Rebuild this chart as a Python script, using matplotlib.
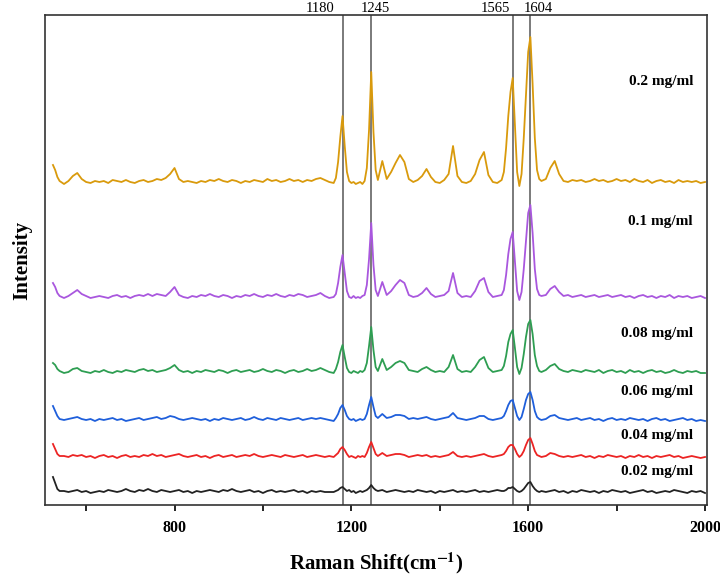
import numpy as np
import matplotlib
matplotlib.use("Agg")
import matplotlib.pyplot as plt

plt.rcParams["mathtext.fontset"] = "stix"

# ---------------- data ----------------
# wavenumber grid (cm^-1): coarse away from the main bands, finer near them
wavenumber = np.concatenate([
    np.array([525, 530, 535]),   # 3 points (start-up spike)
    np.arange(540, 1161, 10),    # 63 points
    np.arange(1165, 1261, 5),    # 20 points
    np.arange(1270, 1541, 10),   # 28 points
    np.arange(1545, 1631, 5),    # 18 points
    np.arange(1640, 2001, 10),   # 37 points
])

labels = ["0.2 mg/ml", "0.1 mg/ml", "0.08 mg/ml", "0.06 mg/ml", "0.04 mg/ml", "0.02 mg/ml"]

# intensities (a.u., relative to each trace's own baseline)
int_02 = [
    17, 12, 5,
    1, -2, 1, 6, 9, 3, 0, -1, 1, 0, 1, -1, 2, 1, 0, 2, 0, -1, 1, 2,
    0, 1, 3, 2, 4, 8, 14, 3, 0, 1, 0, -1, 1, 0, 2, 1, 3, 1, 0, 2,
    1, -1, 1, 0, 2, 1, 0, 3, 1, 2, 0, 1, 3, 1, 2, 0, 2, 1, 3, 4,
    2, 0, -1,
    4, 20, 45, 66, 36, 10, 1, -1, 0, -2, -1, 0, -2, 1, 14, 52, 110, 50, 12, 2,
    21, 3, 10, 19, 27, 20, 3, 0, 2, 6, 13, 5, 0, -1, 2, 8, 36, 6, 0, -1,
    1, 8, 22, 30, 7, 0, -1, 2,
    10, 34, 66, 90, 104, 56, 10, -4, 8, 44, 88, 130, 145, 98, 44, 12, 3, 1,
    3, 14, 21, 8, 1, 0, 2, 1, 2, 0, 1, 3, 1, 2, 0, 1, 3, 1, 2, 0,
    3, 1, 0, 2, -1, 1, 2, 0, 1, -1, 2, 0, 1, 0, 1, -1, 0,
]
int_01 = [
    14, 10, 4,
    1, -1, 1, 4, 7, 3, 1, -1, 0, 1, 0, -1, 1, 2, 0, 1, -1, 1, 2, 1,
    3, 1, 3, 2, 1, 5, 10, 2, 0, -1, 1, 0, 2, 1, 3, 1, 0, 2, 1, -1,
    1, 0, 2, 1, 3, 1, 0, 2, 1, 3, 1, 0, 2, 1, 3, 2, 0, 1, 2, 4,
    1, -1, 0,
    3, 14, 30, 42, 24, 6, 0, -1, 1, -1, 0, -1, 1, 2, 12, 38, 74, 32, 7, 1,
    15, 2, 6, 12, 17, 14, 2, 0, 1, 4, 9, 3, 0, 1, 2, 6, 24, 4, 0, 1,
    0, 6, 16, 19, 5, 0, 1, 2,
    7, 22, 43, 58, 65, 36, 6, -3, 5, 28, 56, 84, 92, 64, 28, 8, 2, 1,
    2, 8, 11, 5, 1, 2, 0, 1, 2, 0, 1, 2, 0, 1, 2, 0, 1, 2, 0, 1,
    -1, 1, 2, 0, 1, -1, 1, 0, 2, -1, 1, 0, 1, -1, 0, 1, -1,
]
int_008 = [
    9, 7, 3,
    1, -1, 0, 3, 4, 1, 0, -1, 1, 0, 2, 0, -1, 1, 0, 2, 1, 0, 2, 3,
    1, 2, 0, 1, 2, 4, 7, 2, 0, 1, -1, 1, 0, 2, 1, 0, 2, 1, -1, 1,
    2, 0, 1, 2, 0, 1, 3, 1, 0, 2, 1, -1, 1, 2, 0, 1, 3, 1, 2, 4,
    2, 0, -1,
    3, 10, 20, 27, 15, 4, 0, -1, 1, 0, -1, 1, 0, 2, 9, 26, 45, 22, 5, 1,
    13, 2, 5, 9, 11, 9, 2, 1, 0, 3, 5, 2, 0, 1, 0, 5, 17, 3, 0, 1,
    0, 5, 12, 15, 4, 0, 1, 2,
    6, 16, 30, 38, 42, 24, 5, -2, 4, 18, 35, 48, 52, 38, 17, 6, 1, 0,
    2, 6, 8, 3, 1, 0, 2, 1, 0, 2, 1, 0, 2, -1, 1, 2, 0, 1, -1, 2,
    0, 1, -1, 1, 2, 0, 1, -1, 0, 2, 0, -1, 1, 0, 1, -1, -1,
]
int_006 = [
    14, 9, 4,
    1, 0, 1, 2, 3, 1, 0, 1, -1, 1, 0, 1, 2, 0, 1, -1, 0, 1, 2, 0,
    1, 2, 3, 1, 2, 4, 3, 1, 0, 1, 2, 1, 0, 1, -1, 1, 0, 2, 1, 0,
    1, 2, 0, 1, 3, 1, 0, 2, 1, 0, 2, 1, 0, 1, 2, 0, 1, 2, 1, 2,
    1, 0, -1,
    2, 6, 12, 15, 10, 4, 1, 0, 1, -1, 0, 1, 0, 1, 6, 15, 23, 13, 4, 2,
    6, 2, 3, 5, 5, 4, 1, 2, 1, 2, 3, 1, 0, 1, 2, 3, 7, 2, 1, 0,
    1, 2, 4, 4, 1, 0, 1, 2,
    4, 9, 15, 19, 20, 12, 4, 0, 3, 11, 20, 26, 28, 20, 9, 3, 1, 0,
    1, 4, 5, 2, 1, 0, 1, 2, 0, 1, 2, 0, 1, -1, 1, 2, 0, 1, 0, 2,
    1, 0, 1, -1, 1, 2, 0, 1, -1, 0, 1, 2, 0, 1, -1, 0, -1,
]
int_004 = [
    13, 8, 3,
    1, 1, 0, 2, 1, 2, 0, 1, -1, 1, 2, 0, 1, -1, 1, 2, 0, 1, 0, 2,
    1, 3, 1, 2, 0, 1, 2, 3, 1, 0, 1, 2, 0, 1, -1, 1, 2, 0, 1, 2,
    0, 1, 2, 1, 3, 1, 0, 1, 2, 1, 0, 2, 1, 0, 1, 2, 0, 1, 2, 1,
    0, 1, 0,
    2, 4, 8, 10, 7, 3, 0, 1, 0, -1, 1, 0, 1, 0, 4, 10, 15, 9, 3, 1,
    4, 1, 2, 3, 3, 2, 0, 1, 2, 1, 2, 0, 1, 0, 1, 2, 5, 1, 0, 1,
    0, 1, 2, 3, 1, 0, 1, 2,
    3, 6, 10, 12, 12, 8, 3, 0, 2, 6, 12, 17, 19, 13, 6, 2, 1, 0,
    1, 4, 3, 1, 0, 1, 0, 1, 2, 0, 1, -1, 1, 0, 2, 1, 0, 1, -1, 1,
    0, 2, 0, 1, -1, 1, 0, 1, 2, 0, 1, -1, 0, 1, 0, -1, 0,
]
int_002 = [
    15, 9, 3,
    1, 1, 0, 1, 2, 0, 1, -1, 0, 1, 0, 2, 1, 0, 1, 3, 1, 0, 2, 1,
    3, 1, 0, 2, 1, 0, 1, 2, 0, 1, -1, 1, 0, 1, 2, 1, 0, 2, 1, 3,
    1, 0, 1, 2, 0, 1, -1, 1, 2, 0, 1, 0, 1, 2, 0, 1, -1, 1, 0, 1,
    0, 0, 0,
    1, 2, 4, 5, 3, 1, 2, 0, 1, -1, 0, 1, 0, 1, 2, 4, 7, 4, 2, 1,
    2, 0, 1, 2, 1, 0, 1, 0, 2, 1, 0, 1, -1, 1, 0, 1, 2, 0, 1, 0,
    1, 2, 0, 1, 0, 1, 2, 1,
    1, 2, 4, 4, 5, 3, 1, 0, 1, 3, 6, 9, 10, 6, 3, 1, 0, 1,
    0, 1, 2, 0, 1, -1, 1, 0, 2, 1, 0, 1, -1, 1, 0, 2, 1, 0, 1, -1,
    0, 1, 2, 0, 1, -1, 0, 1, 0, 2, 1, 0, -1, 1, 0, 1, -1,
]
series = [int_02, int_01, int_008, int_006, int_004, int_002]

# stacking offsets (a.u.) of each trace's baseline
offsets = [323, 208, 133, 85, 48, 13]
label_y = [424, 283, 172, 113, 70, 33]

band_positions = [1180, 1245, 1565, 1604]
band_label_dx = [-22, 4, -17, 8]   # label shift in pixels from its line
x_ticks = [600, 800, 1000, 1200, 1400, 1600, 1800, 2000]
x_ticklabels = ["", "800", "", "1200", "", "1600", "", "2000"]

colors = ["#D99A0C", "#A957DE", "#2E9E52", "#1F5FDB", "#EC2424", "#222222"]

# ---------------- plot ----------------
serif = ["Liberation Serif", "DejaVu Serif"]
fig = plt.figure(figsize=(7.2, 5.81), dpi=100)
ax = fig.add_axes([45 / 720, 1 - 505 / 581, 662 / 720, 490 / 581])

for vals, off, col in zip(series, offsets, colors):
    ax.plot(wavenumber, np.asarray(vals) + off, color=col, lw=1.3)

for b, dx in zip(band_positions, band_label_dx):
    ax.axvline(b, color="#6f6f6f", lw=1.3, zorder=0)
    ax.annotate(str(b), xy=(b, 1.0), xycoords=ax.get_xaxis_transform(),
                xytext=(dx, 0), textcoords="offset pixels",
                ha="center", va="bottom", fontsize=10.5, family=serif,
                annotation_clip=False)

for lab, ly in zip(labels, label_y):
    ax.text(1973, ly, lab, ha="right", va="center", fontsize=11,
            fontweight="bold", family=serif)

ax.set_xlim(507, 2004.5)
ax.set_ylim(0, 490)
ax.set_yticks([])
ax.set_xticks(x_ticks)
ax.set_xticklabels(x_ticklabels, fontsize=11.5, fontweight="bold", family=serif)
ax.tick_params(axis="x", direction="out", length=4, width=1.2, pad=7)
for sp in ax.spines.values():
    sp.set_linewidth(1.2)
    sp.set_color("#333333")

ax.set_xlabel("Raman Shift(cm$^{\\mathbf{-1}}$)", fontsize=15, fontweight="bold",
              family=serif, labelpad=10)
ax.set_ylabel("Intensity", fontsize=15, fontweight="bold", family=serif, labelpad=9)

fig.savefig("out.png", dpi=100)
